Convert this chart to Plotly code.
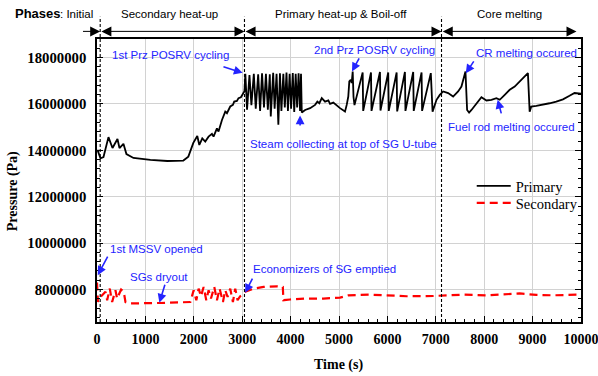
import plotly.graph_objects as go

# ---------------- data ----------------
prim_t = [10, 72, 134, 237, 320, 423, 464, 546, 608, 753, 1103, 1454, 1784, 1887, 1990, 2072, 2114,
          2175, 2237, 2305, 2375, 2408, 2478, 2511, 2582, 2650, 2685, 2753, 2808, 2835, 2891, 2924,
          2973, 3015, 3047,
          3065, 3100, 3150, 3190, 3240, 3280, 3330, 3370, 3410, 3450, 3490, 3530, 3570, 3590, 3640,
          3670, 3710, 3747, 3780, 3810, 3850, 3880, 3915, 3945, 3980, 4010, 4045, 4075, 4105, 4135,
          4165, 4195, 4215, 4231,
          4300, 4403, 4506, 4553, 4594, 4644, 4712, 4780, 4815, 4883, 5021, 5124, 5159, 5192, 5213,
          5242, 5262, 5283, 5300, 5320, 5489, 5500, 5661, 5672, 5846, 5857, 6017, 6028, 6191, 6202,
          6362, 6373, 6533, 6544, 6706, 6717, 6897, 6933,
          7015, 7083, 7152, 7255, 7358, 7461, 7530, 7578, 7613, 7647, 7688, 7737, 7840, 7943, 8046,
          8149, 8252, 8321, 8424, 8527, 8630, 8699, 8767, 8870, 8903, 8939, 8973, 9076, 9213, 9351,
          9489, 9627, 9763, 9866, 10000]
prim_p = [14.02e6, 13.66e6, 13.71e6, 14.57e6, 14.10e6, 14.49e6, 14.10e6, 14.28e6, 13.84e6, 13.67e6,
          13.59e6, 13.54e6, 13.56e6, 13.73e6, 14.32e6, 14.62e6, 14.23e6, 14.52e6, 14.38e6, 14.59e6,
          14.71e6, 14.59e6, 14.95e6, 14.81e6, 15.31e6, 15.67e6, 15.60e6, 15.89e6, 15.96e6, 16.10e6,
          16.13e6, 16.25e6, 16.29e6, 16.47e6, 16.55e6,
          17.30e6, 15.75e6, 17.25e6, 15.95e6, 17.30e6, 15.80e6, 17.28e6, 15.70e6, 17.32e6, 15.85e6,
          17.30e6, 15.75e6, 17.28e6, 15.46e6, 17.34e6, 15.80e6, 17.30e6, 15.10e6, 17.32e6, 15.70e6,
          17.30e6, 15.85e6, 17.35e6, 15.70e6, 17.30e6, 15.80e6, 17.33e6, 15.65e6, 17.30e6, 15.85e6,
          17.32e6, 15.70e6, 17.30e6, 15.63e6,
          15.74e6, 15.82e6, 15.96e6, 16.10e6, 16.03e6, 16.25e6, 16.10e6, 16.15e6, 16.00e6, 16.06e6,
          15.82e6, 15.67e6, 15.96e6, 16.32e6, 16.97e6, 17.04e6, 16.90e6, 17.40e6, 16.30e6, 15.95e6,
          17.36e6, 15.70e6, 17.36e6, 15.70e6, 17.38e6, 15.72e6, 17.36e6, 15.70e6, 17.36e6, 15.68e6,
          17.38e6, 15.70e6, 17.38e6, 15.70e6, 17.36e6, 15.70e6, 17.33e6, 15.67e6,
          16.18e6, 16.39e6, 16.54e6, 16.47e6, 16.32e6, 16.54e6, 16.75e6, 17.18e6, 17.40e6, 15.74e6,
          15.63e6, 15.74e6, 16.03e6, 16.29e6, 16.15e6, 16.18e6, 16.25e6, 16.18e6, 16.39e6, 16.61e6,
          16.75e6, 16.90e6, 17.04e6, 17.26e6, 17.33e6, 15.67e6, 15.89e6, 15.92e6, 15.96e6, 16.03e6,
          16.10e6, 16.20e6, 16.35e6, 16.47e6, 16.44e6]

sec_t = [0, 20, 40, 175, 210, 264, 313, 381, 416, 498, 553, 588, 656, 1000, 1300, 1928, 1997, 2052,
         2100, 2148, 2203, 2258, 2306, 2355, 2423, 2478, 2533, 2602, 2650, 2698, 2753, 2808, 2856,
         2904, 2959, 3015, 3062, 3234, 3440, 3716, 3839, 3852, 3990, 4334, 4677, 5021, 5192, 5640,
         6120, 6396, 6945, 7564, 8046, 8733, 9077, 9419, 9970]
sec_p = [8.30e6, 7.46e6, 7.61e6, 7.90e6, 7.54e6, 8.04e6, 7.46e6, 7.97e6, 7.61e6, 8.00e6, 7.90e6,
         7.46e6, 7.40e6, 7.40e6, 7.42e6, 7.46e6, 7.97e6, 7.54e6, 8.04e6, 7.71e6, 8.11e6, 7.54e6,
         7.97e6, 7.61e6, 8.11e6, 7.54e6, 8.04e6, 7.46e6, 7.97e6, 7.68e6, 8.04e6, 7.46e6, 8.04e6,
         7.54e6, 7.71e6, 7.80e6, 7.90e6, 8.04e6, 8.11e6, 8.14e6, 8.11e6, 7.54e6, 7.57e6, 7.61e6,
         7.61e6, 7.65e6, 7.75e6, 7.78e6, 7.75e6, 7.71e6, 7.72e6, 7.78e6, 7.75e6, 7.83e6, 7.77e6,
         7.75e6, 7.78e6]

phase_bounds = [66, 3047, 7118]
phase_names = ["Secondary heat-up", "Primary heat-up & Boil-off", "Core melting"]

events = ["1st Prz POSRV cycling", "Steam collecting at top of SG U-tube", "2nd Prz POSRV cycling",
          "CR melting occured", "Fuel rod melting occured", "1st MSSV opened", "SGs dryout",
          "Economizers of SG emptied"]
# (text x, text y, arrow tail x, tail y, arrow head x, head y)
event_pos = [(1526, 18.12e6, 2582, 17.62e6, 3010, 17.34e6),
             (5083, 14.28e6, 4196, 15.01e6, 4196, 15.50e6),
             (5732, 18.34e6, 5433, 18.03e6, 5268, 17.40e6),
             (8877, 18.21e6, 7805, 17.90e6, 7620, 17.32e6),
             (8568, 15.01e6, 8361, 15.53e6, 8279, 16.18e6),
             (1227, 9.74e6, 237, 9.48e6, 15, 8.62e6),
             (1289, 8.53e6, 1412, 8.27e6, 1289, 7.43e6),
             (4701, 8.88e6, 3227, 8.53e6, 3062, 7.86e6)]

XMAX = 10000
YMIN, YMAX = 6.6e6, 18.8e6
PLOT_L, PLOT_R, PLOT_T, PLOT_B = 96.5, 581.5, 39.3, 321.7

def px2paper_x(px):
    return (px - PLOT_L) / (PLOT_R - PLOT_L)

def px2paper_y(py):
    return (PLOT_B - py) / (PLOT_B - PLOT_T)

def t2px(t):
    return PLOT_L + t / XMAX * (PLOT_R - PLOT_L)

serif = "Liberation Serif, Times New Roman, serif"
sans = "Liberation Sans, Arial, sans-serif"
BLUE = "#2424ff"

fig = go.Figure()
fig.add_trace(go.Scatter(x=prim_t, y=prim_p, mode="lines", name="Primary", legend="legend",
                         line=dict(color="black", width=1.8)))
fig.add_trace(go.Scatter(x=sec_t, y=sec_p, mode="lines", name="Secondary", legend="legend2",
                         line=dict(color="#ff0000", width=2.2, dash="8px,5px")))

shapes = []
for b in phase_bounds:
    shapes.append(dict(type="line", xref="paper", yref="paper", x0=b / XMAX, x1=b / XMAX,
                       y0=0, y1=px2paper_y(17), line=dict(color="black", width=1.1, dash="3px,2px")))

ann = []
# phase header
ann.append(dict(xref="paper", yref="paper", x=px2paper_x(12), y=px2paper_y(13.5), xanchor="left",
                yanchor="middle", text="<b>Phases</b>", showarrow=False,
                font=dict(family=sans, size=13, color="black")))
ann.append(dict(xref="paper", yref="paper", x=px2paper_x(57), y=px2paper_y(14), xanchor="left",
                yanchor="middle", text=": Initial", showarrow=False,
                font=dict(family=sans, size=11.5, color="black")))
centers = [168.7, 341, 510]
for name, c in zip(phase_names, centers):
    ann.append(dict(xref="paper", yref="paper", x=px2paper_x(c), y=px2paper_y(14), xanchor="center",
                    yanchor="middle", text=name, showarrow=False,
                    font=dict(family=sans, size=11.5, color="black")))
arr_y = px2paper_y(31.7)
arrow_segs = [(81, t2px(phase_bounds[0]), "end"),
              (t2px(phase_bounds[0]), t2px(phase_bounds[1]), "end+start"),
              (t2px(phase_bounds[1]), t2px(phase_bounds[2]), "end+start"),
              (t2px(phase_bounds[2]), 577, "end+start")]
for a0, a1, side in arrow_segs:
    ann.append(dict(xref="paper", yref="paper", x=px2paper_x(a1), y=arr_y,
                    ax=a0 - a1, ay=0, text="", showarrow=True, arrowhead=2, arrowsize=2.0,
                    arrowwidth=1, arrowcolor="black", arrowside=side, standoff=0, startstandoff=0))

for txt, (tx, ty, ax0, ay0, hx, hy) in zip(events, event_pos):
    ann.append(dict(xref="x", yref="y", x=tx, y=ty, text=txt, showarrow=False,
                    xanchor="center", yanchor="middle", font=dict(family=sans, size=11.5, color=BLUE)))
    ann.append(dict(xref="x", yref="y", axref="x", ayref="y", x=hx, y=hy, ax=ax0, ay=ay0, text="",
                    showarrow=True, arrowhead=2, arrowsize=1.1, arrowwidth=1.6, arrowcolor=BLUE,
                    standoff=0))

# axis titles
ann.append(dict(xref="paper", yref="paper", x=px2paper_x(12.5), y=px2paper_y(191), text="<b>Pressure (Pa)</b>",
                textangle=-90, showarrow=False, xanchor="center", yanchor="middle",
                font=dict(family=serif, size=14, color="black")))
ann.append(dict(xref="paper", yref="paper", x=px2paper_x(338), y=px2paper_y(365), text="<b>Time (s)</b>",
                showarrow=False, xanchor="center", yanchor="middle",
                font=dict(family=serif, size=14, color="black")))

leg_common = dict(xanchor="left", yanchor="top", bgcolor="rgba(0,0,0,0)",
                  font=dict(family=serif, size=14.5, color="black"), itemwidth=34)
fig.update_layout(
    width=598, height=376,
    margin=dict(l=96.5, r=16.5, t=39.3, b=54.3, autoexpand=False),
    paper_bgcolor="white", plot_bgcolor="white",
    shapes=shapes, annotations=ann,
    showlegend=True,
    legend=dict(x=px2paper_x(472), y=px2paper_y(170), **leg_common),
    legend2=dict(x=px2paper_x(472), y=px2paper_y(187), **leg_common),
)
fig.update_xaxes(range=[0, XMAX], dtick=1000, tick0=0, tickformat="d", showgrid=True, gridcolor="#d2d2d2",
                 gridwidth=1, showline=True, linecolor="black", linewidth=1.5, mirror=True,
                 ticks="inside", ticklen=6, tickwidth=1.3, tickcolor="black",
                 minor=dict(dtick=200, ticks="inside", ticklen=3, tickwidth=1.1, tickcolor="black", showgrid=False),
                 tickfont=dict(family=serif, size=14, color="black"), tickprefix="<b>", ticksuffix="</b>",
                 zeroline=False, ticklabelstandoff=3, ticklabeloverflow="allow", automargin=False)
fig.update_yaxes(range=[YMIN, YMAX], dtick=2e6, tick0=0, tickformat="d", showgrid=True, gridcolor="#d2d2d2",
                 gridwidth=1, showline=True, linecolor="black", linewidth=1.5, mirror="ticks",
                 ticks="inside", ticklen=6, tickwidth=1.3, tickcolor="black",
                 minor=dict(dtick=4e5, ticks="inside", ticklen=3, tickwidth=1.1, tickcolor="black", showgrid=False),
                 tickfont=dict(family=serif, size=14.75, color="black"), tickprefix="<b>", ticksuffix="</b>",
                 zeroline=False, ticklabelstandoff=6, ticklabeloverflow="allow", automargin=False)

fig.write_html("out.html", config={"displayModeBar": False},
               post_script="document.body.style.margin='0px';document.body.style.overflow='hidden';")
